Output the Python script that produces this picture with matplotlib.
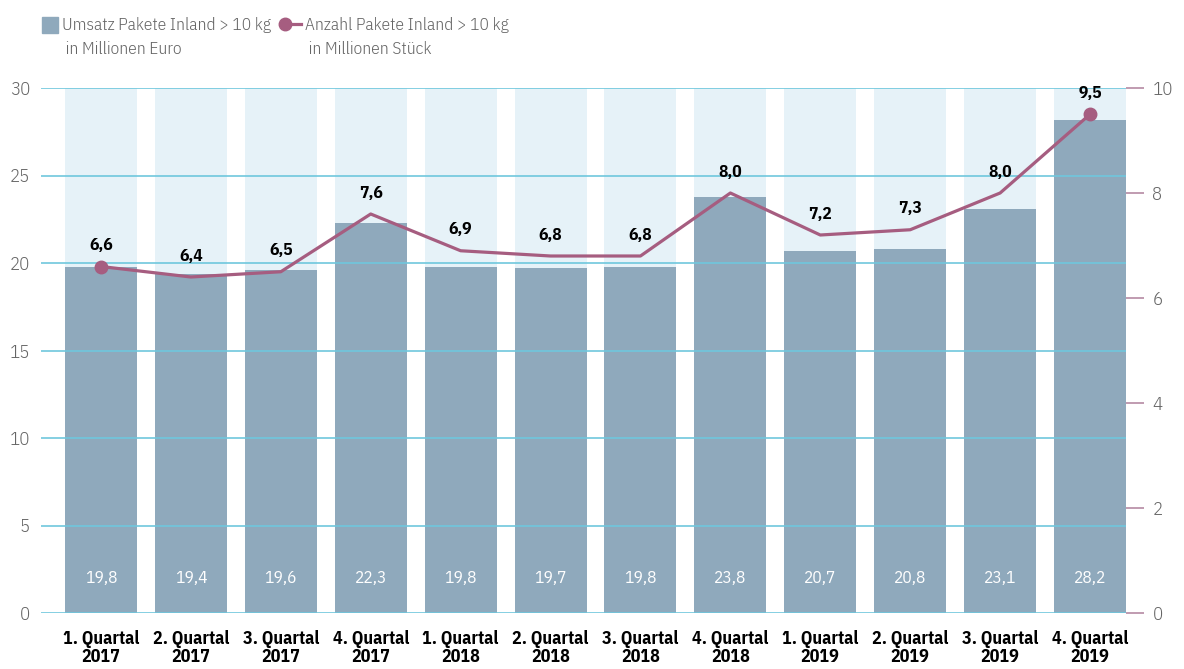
import matplotlib.pyplot as plt
from matplotlib.lines import Line2D
from matplotlib.patches import Rectangle

# Daten
quartale = ['1. Quartal\n2017', '2. Quartal\n2017', '3. Quartal\n2017', '4. Quartal\n2017',
            '1. Quartal\n2018', '2. Quartal\n2018', '3. Quartal\n2018', '4. Quartal\n2018',
            '1. Quartal\n2019', '2. Quartal\n2019', '3. Quartal\n2019', '4. Quartal\n2019']
umsatz = [19.8, 19.4, 19.6, 22.3, 19.8, 19.7, 19.8, 23.8, 20.7, 20.8, 23.1, 28.2]
anzahl = [6.6, 6.4, 6.5, 7.6, 6.9, 6.8, 6.8, 8.0, 7.2, 7.3, 8.0, 9.5]
left_ticks = [0, 5, 10, 15, 20, 25, 30]
right_ticks = [0, 2, 4, 6, 8, 10]

cond = ['IBM Plex Sans Condensed', 'DejaVu Sans']
plt.rcParams['font.family'] = cond

bar_col = '#8fa9bc'
bg_col = '#e6f2f8'
grid_col = '#6fc7dd'
line_col = '#a65d80'
tick_col = '#666666'

fig = plt.figure(figsize=(11.84, 6.69), dpi=100)
ax1 = fig.add_axes([41 / 1184, 56 / 669, 1085 / 1184, 525 / 669])
ax2 = ax1.twinx()

x = list(range(len(quartale)))
ax1.bar(x, [30] * len(x), width=0.8, color=bg_col, zorder=1)
ax1.bar(x, umsatz, width=0.8, color=bar_col, zorder=2)
for t in left_ticks:
    ax1.axhline(t, color=grid_col, lw=1.2, zorder=3)

for xi, v in zip(x, umsatz):
    ax1.text(xi, 2.0, f'{v:.1f}'.replace('.', ','), ha='center', va='center',
             color='white', fontsize=12.5, zorder=4)

ax1.set_xlim(-0.667, 11.4)
ax1.set_ylim(0, 30)
ax1.set_yticks(left_ticks)
ax1.set_xticks(x)
ax1.set_xticklabels(quartale, fontweight='bold', fontsize=13, linespacing=1.0)
ax1.tick_params(axis='x', length=0, pad=12, colors='black')
ax1.tick_params(axis='y', length=0, pad=8, labelsize=13.5, labelcolor=tick_col)
for lab in ax1.get_yticklabels():
    lab.set_fontweight(300)
for s in ax1.spines.values():
    s.set_visible(False)

ax2.plot(x, anzahl, color=line_col, lw=2.3, zorder=5)
ax2.plot([x[0], x[-1]], [anzahl[0], anzahl[-1]], 'o', color=line_col, ms=9, zorder=6)
for xi, v in zip(x, anzahl):
    ax2.annotate(f'{v:.1f}'.replace('.', ','), (xi, v), xytext=(0, 15),
                 textcoords='offset points', ha='center', va='center',
                 fontsize=12.5, fontweight='bold', color='black', zorder=7)
ax2.set_ylim(0, 10)
ax2.set_yticks(right_ticks)
ax2.tick_params(axis='y', direction='out', length=13, width=1.2, color='#b58aa3',
                pad=6, labelsize=13.5, labelcolor=tick_col)
for lab in ax2.get_yticklabels():
    lab.set_fontweight(300)
for s in ax2.spines.values():
    s.set_visible(False)
ax1.set_zorder(ax2.get_zorder() - 1)
ax2.patch.set_visible(False)
ax1.patch.set_visible(False)

# legend drawn by hand
W, H = 1184, 669
fig.add_artist(Rectangle((42 / W, 1 - 33 / H), 16 / W, 16 / H, color=bar_col,
                         transform=fig.transFigure))
fig.text(62 / W, 1 - 25 / H, 'Umsatz Pakete Inland > 10 kg', fontsize=12.5, fontweight=300,
         color=tick_col, va='center')
fig.text(62 / W, 1 - 49 / H, ' in Millionen Euro', fontsize=12.5, fontweight=300,
         color=tick_col, va='center')
fig.add_artist(Line2D([287 / W, 301 / W], [1 - 24 / H, 1 - 24 / H], color=line_col, lw=2.3,
                      transform=fig.transFigure))
fig.add_artist(Line2D([285 / W], [1 - 24 / H], marker='o', ms=9, color=line_col,
                      transform=fig.transFigure))
fig.text(305 / W, 1 - 25 / H, 'Anzahl Pakete Inland > 10 kg', fontsize=12.5, fontweight=300,
         color=tick_col, va='center')
fig.text(305 / W, 1 - 49 / H, ' in Millionen Stück', fontsize=12.5, fontweight=300,
         color=tick_col, va='center')

fig.savefig('out.png', dpi=100)
